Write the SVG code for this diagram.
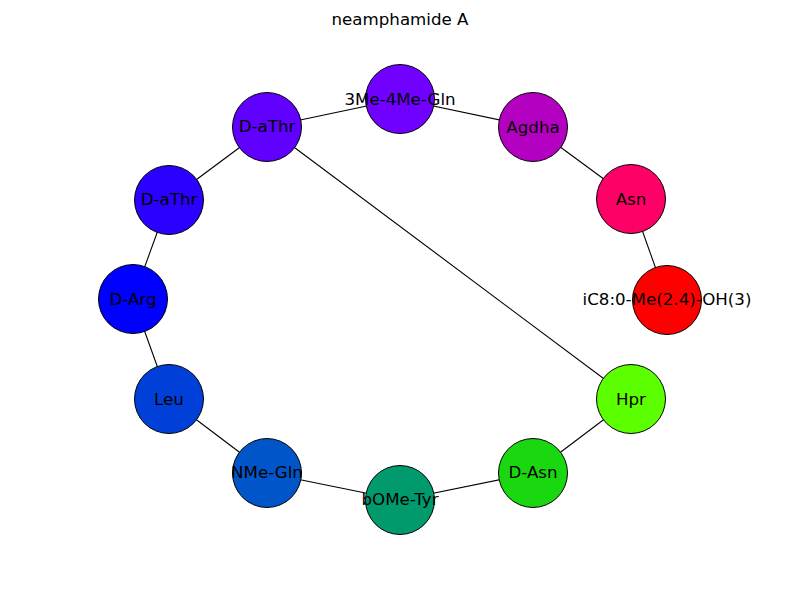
<svg xmlns="http://www.w3.org/2000/svg" width="800" height="600" viewBox="0 0 800 600">
<style>
text{font-family:"DejaVu Sans",sans-serif;font-size:16.67px;fill:#000;text-anchor:middle;dominant-baseline:central}
.n circle{stroke:#000;stroke-width:1}
#edges line{stroke:#000;stroke-width:1.1}
</style>
<rect width="800" height="600" fill="#fff"/>
<text x="400" y="19">neamphamide A</text>
<g id="edges">
<line x1="267" y1="127" x2="400" y2="99"/>
<line x1="400" y1="99" x2="533" y2="127"/>
<line x1="533" y1="127" x2="631" y2="199"/>
<line x1="631" y1="199" x2="667" y2="300"/>
<line x1="267" y1="127" x2="169" y2="200"/>
<line x1="169" y1="200" x2="133" y2="299"/>
<line x1="133" y1="299" x2="169" y2="399"/>
<line x1="169" y1="399" x2="267" y2="473"/>
<line x1="267" y1="473" x2="400" y2="500"/>
<line x1="400" y1="500" x2="533" y2="473"/>
<line x1="533" y1="473" x2="631" y2="399"/>
<line x1="631" y1="399" x2="267" y2="127"/>
</g>
<g id="n-3Me4MeGln" class="n"><circle cx="400" cy="99" r="34.5" fill="#7000ff"/><text x="400" y="99">3Me-4Me-Gln</text></g>
<g id="n-Agdha" class="n"><circle cx="533" cy="127" r="34.5" fill="#b400c0"/><text x="533" y="127">Agdha</text></g>
<g id="n-Asn" class="n"><circle cx="631" cy="199" r="34.5" fill="#ff0066"/><text x="631" y="199">Asn</text></g>
<g id="n-iC8" class="n"><circle cx="667" cy="300" r="34.5" fill="#ff0000"/><text x="667" y="299">iC8:0-Me(2.4)-OH(3)</text></g>
<g id="n-Hpr" class="n"><circle cx="631" cy="399" r="34.5" fill="#5cff00"/><text x="631" y="399">Hpr</text></g>
<g id="n-DAsn" class="n"><circle cx="533" cy="473" r="34.5" fill="#1ad810"/><text x="533" y="472">D-Asn</text></g>
<g id="n-bOMeTyr" class="n"><circle cx="400" cy="500" r="34.5" fill="#009a6c"/><text x="400" y="499">bOMe-Tyr</text></g>
<g id="n-NMeGln" class="n"><circle cx="267" cy="473" r="34.5" fill="#0056c8"/><text x="267" y="472">NMe-Gln</text></g>
<g id="n-Leu" class="n"><circle cx="169" cy="399" r="34.5" fill="#0040d8"/><text x="169" y="399">Leu</text></g>
<g id="n-DArg" class="n"><circle cx="133" cy="299" r="34.5" fill="#0000ff"/><text x="133" y="299">D-Arg</text></g>
<g id="n-DaThr1" class="n"><circle cx="169" cy="200" r="34.5" fill="#2c00ff"/><text x="169" y="199">D-aThr</text></g>
<g id="n-DaThr2" class="n"><circle cx="267" cy="127" r="34.5" fill="#6000ff"/><text x="267" y="126">D-aThr</text></g>
</svg>
